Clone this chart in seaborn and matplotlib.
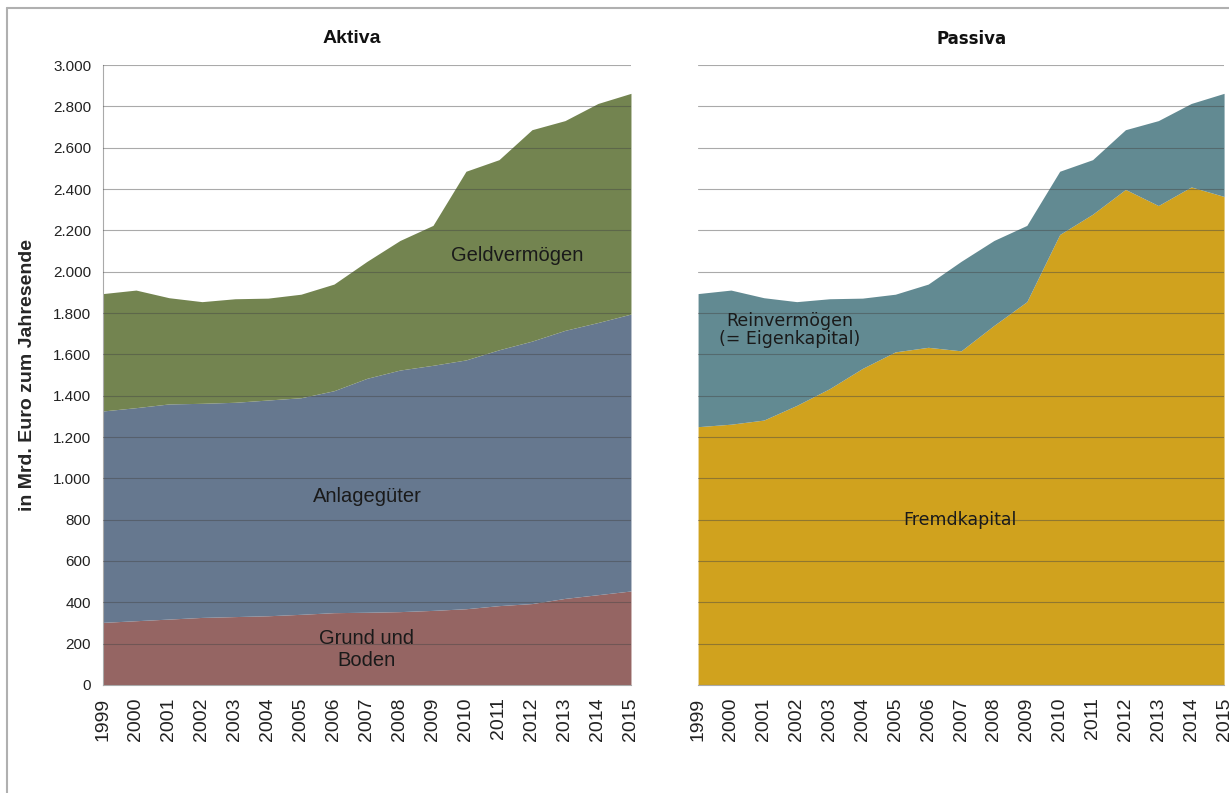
import matplotlib
matplotlib.use("Agg")
import matplotlib.pyplot as plt
import seaborn as sns
import numpy as np
from matplotlib.ticker import FuncFormatter, MultipleLocator
from matplotlib.lines import Line2D

years = list(range(1999, 2016))
grund_boden = [303, 311, 319, 327, 331, 335, 342, 350, 352, 355, 361, 369, 384, 394, 419, 437, 455]
anlagegueter = [1023, 1031, 1041, 1036, 1037, 1044, 1048, 1074, 1132, 1169, 1186, 1204, 1238, 1270, 1297, 1317, 1340]
geldvermoegen = [568, 569, 514, 492, 501, 493, 501, 516, 566, 627, 677, 913, 920, 1023, 1015, 1060, 1068]
fremdkapital = [1250, 1262, 1282, 1353, 1434, 1532, 1612, 1634, 1617, 1740, 1855, 2180, 2278, 2398, 2320, 2410, 2364]
reinvermoegen = [644, 649, 592, 502, 435, 340, 279, 306, 433, 411, 369, 306, 264, 289, 411, 404, 499]

titles = ["Aktiva", "Passiva"]
ylabel = "in Mrd. Euro zum Jahresende"

sns.set_style("white")
plt.rcParams['font.family'] = ['Liberation Sans', 'DejaVu Sans']

fig = plt.figure(figsize=(12.29, 7.93), dpi=100)
axL = fig.add_axes([0.0838, 0.1362, 0.4296, 0.7818])
axR = fig.add_axes([0.5680, 0.1362, 0.4280, 0.7818])

c_grund = "#956563"
c_anlage = "#66788F"
c_geld = "#738450"
c_fremd = "#D0A21E"
c_rein = "#628A92"

axL.stackplot(years, grund_boden, anlagegueter, geldvermoegen,
              colors=[c_grund, c_anlage, c_geld], linewidth=0, zorder=1)
axR.stackplot(years, fremdkapital, reinvermoegen,
              colors=[c_fremd, c_rein], linewidth=0, zorder=1)

fmt = FuncFormatter(lambda v, p: f"{int(v):,}".replace(",", "."))
for ax in [axL, axR]:
    ax.set_xlim(1999, 2015)
    ax.set_ylim(0, 3000)
    ax.yaxis.set_major_locator(MultipleLocator(200))
    ax.yaxis.set_major_formatter(fmt)
    ax.set_xticks(years)
    ax.set_xticklabels([str(y) for y in years], rotation=90, fontsize=14, color="#222222")
    ax.grid(axis="y", color="#444444", alpha=0.45, linewidth=0.8, zorder=3)
    ax.set_axisbelow(False)
    for s in ["top", "right"]:
        ax.spines[s].set_visible(False)
    ax.spines["bottom"].set_color("#aaaaaa")
    ax.spines["left"].set_color("#aaaaaa")
    ax.tick_params(axis="x", direction="out", length=6, color="#aaaaaa", pad=3)
    ax.tick_params(axis="y", direction="out", length=5, color="#aaaaaa", labelsize=11, labelcolor="#222222")

axR.spines["left"].set_visible(False)
axR.tick_params(axis="y", left=False, labelleft=False)

axL.text(0.4716, 1.0 + 27/620, titles[0], transform=axL.transAxes, ha="center", va="center",
         fontsize=14, fontweight="bold", color="#111111")
axR.text(0.519, 1.0 + 26/620, titles[1], transform=axR.transAxes, ha="center", va="center",
         fontsize=12, fontweight="bold", color="#111111", family=["DejaVu Sans"])

axL.set_ylabel(ylabel, fontsize=14, fontweight="bold", labelpad=12)

txtL = dict(fontsize=14.5, color="#1a1a1a", ha="center", va="center", zorder=5)
txtR = dict(fontsize=12.5, color="#1a1a1a", ha="center", va="center", zorder=5, family=["DejaVu Sans"])
axL.text(2011.55, 2076, "Geldvermögen", **txtL)
axL.text(2007.0, 914, "Anlagegüter", **txtL)
axL.text(2007.0, 174, "Grund und\nBoden", linespacing=1.2, **txtL)
axR.text(2001.8, 1718, "Reinvermögen\n(= Eigenkapital)", linespacing=1.05, **txtR)
axR.text(2006.97, 798, "Fremdkapital", **txtR)

# outer frame lines
fig.add_artist(Line2D([7/1229, 1.0], [1 - 8/793, 1 - 8/793], transform=fig.transFigure,
                      color="#b0b0b0", linewidth=1.5))
fig.add_artist(Line2D([7/1229, 7/1229], [0, 1 - 8/793], transform=fig.transFigure,
                      color="#b0b0b0", linewidth=1.5))

fig.savefig("out.png", dpi=100)
